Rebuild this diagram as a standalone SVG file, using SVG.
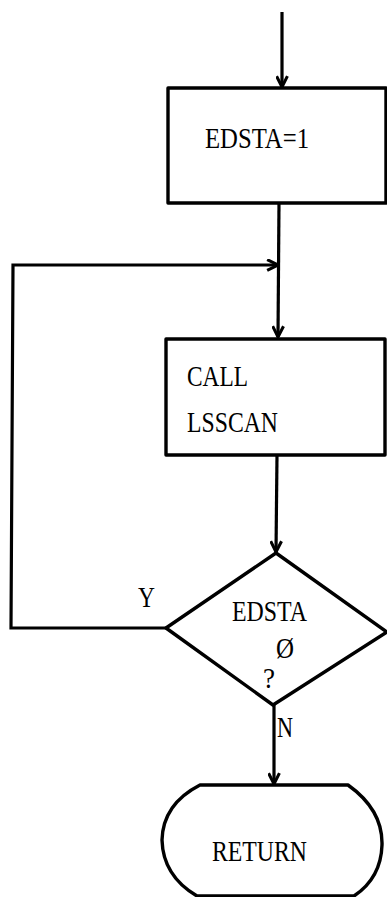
<svg xmlns="http://www.w3.org/2000/svg" width="387" height="897" viewBox="0 0 387 897">
<style>
.shape{fill:none;stroke:#000;stroke-width:3.4;stroke-linejoin:round}
.conn{fill:none;stroke:#000;stroke-width:3.2}
.t{font-family:'Liberation Serif','DejaVu Serif',serif;font-size:29px;fill:#000}
</style>
<defs>
<marker id="arr" viewBox="0 0 12 12" refX="11" refY="6" markerWidth="13" markerHeight="13" markerUnits="userSpaceOnUse" orient="auto">
<path d="M1,1 L11,6 L1,11" fill="none" stroke="#000" stroke-width="2.8"/>
</marker>
</defs>
<rect width="387" height="897" fill="#fff"/>
<g id="connectors">
<line class="conn" x1="282" y1="12" x2="282" y2="87" marker-end="url(#arr)"/>
<line class="conn" x1="279" y1="203" x2="278" y2="337" marker-end="url(#arr)"/>
<polyline class="conn" points="166,628 11,628 13,265 278,265" marker-end="url(#arr)"/>
<line class="conn" x1="277" y1="455" x2="276" y2="552" marker-end="url(#arr)"/>
<line class="conn" x1="274" y1="705" x2="274" y2="784" marker-end="url(#arr)"/>
<text class="t" x="138" y="607" textLength="17" lengthAdjust="spacingAndGlyphs">Y</text>
<text class="t" x="277" y="737" textLength="16" lengthAdjust="spacingAndGlyphs">N</text>
</g>
<g id="n1">
<rect class="shape" x="168" y="88" width="218" height="115"/>
<text class="t" x="205" y="148" textLength="104" lengthAdjust="spacingAndGlyphs">EDSTA=1</text>
</g>
<g id="n2">
<rect class="shape" x="166" y="339" width="219" height="116"/>
<text class="t" x="187" y="386" textLength="61" lengthAdjust="spacingAndGlyphs">CALL</text>
<text class="t" x="187" y="432" textLength="91" lengthAdjust="spacingAndGlyphs">LSSCAN</text>
</g>
<g id="n3">
<polygon class="shape" points="276,553 387,632 273,705 166,628"/>
<text class="t" x="232" y="621" textLength="75" lengthAdjust="spacingAndGlyphs">EDSTA</text>
<text class="t" x="276" y="658" textLength="18" lengthAdjust="spacingAndGlyphs">Ø</text>
<text class="t" x="263" y="688" textLength="12" lengthAdjust="spacingAndGlyphs">?</text>
</g>
<g id="n4">
<path class="shape" d="M200,785 L348,785 Q383,810 382,845 Q381,878 354,896 L197,896 Q163,876 162,840 Q163,804 200,785 Z"/>
<text class="t" x="212" y="861" textLength="95" lengthAdjust="spacingAndGlyphs">RETURN</text>
</g>
</svg>
